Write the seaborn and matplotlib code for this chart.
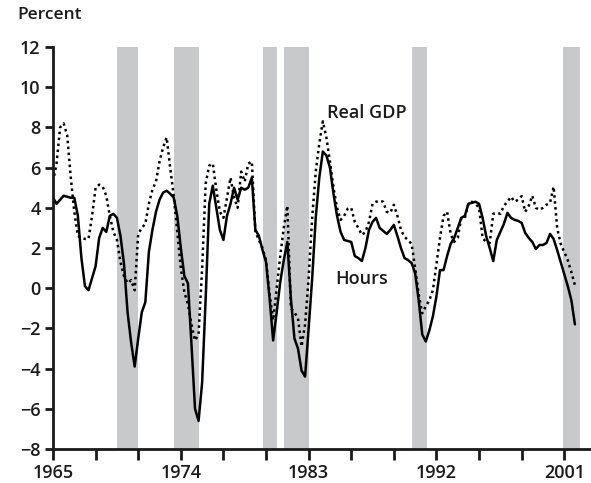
import numpy as np
import pandas as pd
import matplotlib
matplotlib.use("Agg")
import matplotlib.pyplot as plt
import seaborn as sb

# Données trimestrielles 1965T1 - 2001T4 (variation sur un an, en %)
annee_debut = 1965
annee_fin = 2001

heures = [
    4.5, 4.2, 4.4, 4.6,      # 1965
    4.55, 4.5, 4.5, 3.6,     # 1966
    1.5, 0.1, -0.1, 0.5,     # 1967
    1.1, 2.5, 3.0, 2.8,      # 1968
    3.6, 3.7, 3.5, 2.6,      # 1969
    1.2, -1.2, -2.7, -3.9,   # 1970
    -2.5, -1.2, -0.7, 1.8,   # 1971
    2.9, 3.8, 4.4, 4.75,     # 1972
    4.85, 4.7, 4.5, 3.6,     # 1973
    2.0, 0.6, 0.25, -2.8,    # 1974
    -6.0, -6.6, -4.7, -0.5,  # 1975
    4.2, 5.1, 4.0, 2.9,      # 1976
    2.4, 3.6, 4.2, 5.0,      # 1977
    4.4, 5.0, 4.9, 5.0,      # 1978
    5.5, 2.9, 2.6, 1.9,      # 1979
    1.3, -0.5, -2.6, -1.2,   # 1980
    0.3, 1.4, 2.3, -0.5,     # 1981
    -2.5, -3.0, -4.1, -4.4,  # 1982
    -2.0, 0.5, 3.5, 5.5,     # 1983
    6.8, 6.6, 6.0, 4.7,      # 1984
    3.6, 2.8, 2.4, 2.35,     # 1985
    2.3, 1.6, 1.5, 1.35,     # 1986
    2.0, 2.9, 3.3, 3.5,      # 1987
    3.0, 2.85, 2.7, 2.9,     # 1988
    3.15, 2.6, 2.0, 1.5,     # 1989
    1.4, 1.25, 0.75, -0.6,   # 1990
    -2.3, -2.65, -2.1, -1.4, # 1991
    -0.4, 0.9, 0.9, 1.6,     # 1992
    2.2, 2.5, 3.0, 3.5,      # 1993
    3.6, 4.2, 4.25, 4.3,     # 1994
    4.2, 3.5, 2.6, 2.0,      # 1995
    1.35, 2.4, 2.8, 3.2,     # 1996
    3.75, 3.5, 3.4, 3.35,    # 1997
    3.25, 2.75, 2.5, 2.3,    # 1998
    1.95, 2.15, 2.15, 2.25,  # 1999
    2.7, 2.45, 1.9, 1.3,     # 2000
    0.7, 0.1, -0.6, -1.8,    # 2001
]

pib_reel = [
    5.3, 6.2, 8.0, 8.2,      # 1965
    7.6, 5.5, 3.8, 2.6,      # 1966
    2.5, 2.45, 2.45, 3.6,    # 1967
    5.0, 5.15, 5.05, 4.6,    # 1968
    3.6, 2.8, 2.4, 1.3,      # 1969
    0.6, 0.25, 0.4, -0.1,    # 1970
    2.7, 3.0, 3.2, 4.2,      # 1971
    4.9, 5.3, 6.3, 7.0,      # 1972
    7.5, 6.0, 4.6, 2.8,      # 1973
    1.0, -0.2, -0.8, -1.8,   # 1974
    -2.6, -2.3, 1.0, 5.2,    # 1975
    6.1, 6.2, 4.9, 3.8,      # 1976
    3.5, 4.5, 5.5, 4.5,      # 1977
    4.0, 5.8, 5.3, 6.2,      # 1978
    6.3, 2.8, 2.4, 2.0,      # 1979
    1.4, -0.3, -1.6, 0.0,    # 1980
    1.6, 3.0, 4.1, -1.0,     # 1981
    -1.2, -1.5, -2.9, -1.8,  # 1982
    0.5, 3.5, 5.8, 7.2,      # 1983
    8.3, 7.5, 6.3, 5.0,      # 1984
    4.0, 3.4, 3.6, 3.95,     # 1985
    4.0, 3.3, 3.0, 2.65,     # 1986
    2.8, 3.3, 4.2, 4.3,      # 1987
    4.35, 4.3, 3.8, 3.75,    # 1988
    4.15, 3.6, 2.9, 2.55,    # 1989
    2.4, 2.2, 1.0, -0.3,     # 1990
    -1.25, -0.9, -0.6, -0.1, # 1991
    1.2, 2.5, 3.6, 3.8,      # 1992
    2.7, 2.3, 2.5, 3.5,      # 1993
    3.5, 4.2, 4.3, 4.2,      # 1994
    4.0, 2.5, 2.3, 2.25,     # 1995
    3.7, 3.75, 3.7, 4.1,     # 1996
    4.3, 4.55, 4.3, 4.4,     # 1997
    4.58, 3.8, 4.1, 4.6,     # 1998
    4.0, 3.9, 4.0, 4.15,     # 1999
    4.25, 5.05, 3.0, 2.2,    # 2000
    1.8, 1.4, 0.8, 0.15,     # 2001
]

# Récessions (début, fin) en années décimales
recessions = [(1969.5, 1971.0), (1973.5, 1975.3), (1979.8, 1980.8),
              (1981.3, 1983.0), (1990.3, 1991.3), (2000.9, 2002.1)]

annees_labels = [1965, 1974, 1983, 1992, 2001]

# Construction du tableau
dates = annee_debut + np.arange(len(heures)) * 0.25
df = pd.DataFrame({"date": dates, "Hours": heures, "Real GDP": pib_reel})

sb.set_style("ticks")
plt.rcParams["font.family"] = ["Open Sans", "DejaVu Sans"]
plt.rcParams["font.weight"] = "semibold"

fig = plt.figure(figsize=(5.91, 4.83), dpi=100)
ax = fig.add_axes([0.0897, 0.0704, 0.9083, 0.8323])

# Bandes grises des récessions
for debut, fin in recessions:
    ax.axvspan(debut, fin, color="#c8c9cb", lw=0, zorder=0)

sb.lineplot(data=df, x="date", y="Real GDP", ax=ax, color="black",
            lw=1.8, linestyle=(0, (1, 1.4)), zorder=3)
sb.lineplot(data=df, x="date", y="Hours", ax=ax, color="black",
            lw=1.8, zorder=4)

ax.set_xlim(1965, 2002.8)
ax.set_ylim(-8, 12)
ax.set_xlabel("")
ax.set_ylabel("")

ax.set_yticks(np.arange(-8, 13, 2))
ax.set_yticklabels(["\u2212" + str(-v) if v < 0 else str(v) for v in range(-8, 13, 2)])
ax.set_xticks(np.arange(1965, 2003, 3))
ax.set_xticklabels([str(a) if a in annees_labels else "" for a in range(1965, 2003, 3)])

for s in ["top", "right"]:
    ax.spines[s].set_visible(False)
for s in ["left", "bottom"]:
    ax.spines[s].set_linewidth(2)
    ax.spines[s].set_color("#1a1a1a")
    ax.spines[s].set_zorder(5)

ax.tick_params(axis="y", length=6, width=2, labelsize=13, pad=3, colors="#1a1a1a")
ax.tick_params(axis="x", length=8, width=2, labelsize=13, pad=3, colors="#1a1a1a")

# Annotations
ax.text(1987.1, 8.7, "Real GDP", fontsize=13, fontweight="semibold",
        ha="center", va="center", color="#1a1a1a")
ax.text(1986.7, 0.45, "Hours", fontsize=13, fontweight="semibold",
        ha="center", va="center", color="#1a1a1a")
fig.text(0.03, 0.968, "Percent", fontsize=12.5, fontweight="semibold",
         ha="left", va="center", color="#1a1a1a")

fig.savefig("out.png", dpi=100)
